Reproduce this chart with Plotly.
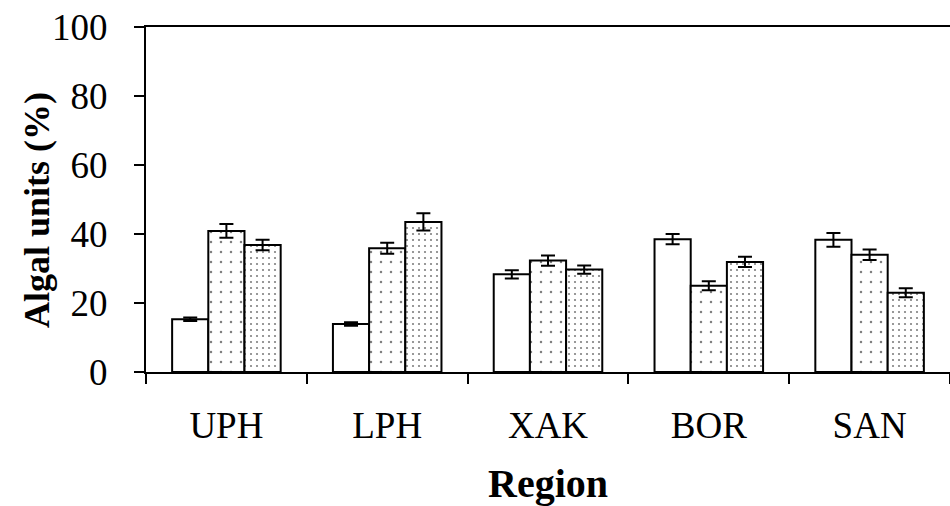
import plotly.graph_objects as go

regions = ["UPH", "LPH", "XAK", "BOR", "SAN"]
s1 = [15.3, 13.9, 28.3, 38.5, 38.3]
s1_err = [0.5, 0.5, 1.2, 1.5, 2.0]
s2 = [40.9, 35.9, 32.3, 25.0, 34.0]
s2_err = [2.0, 1.6, 1.5, 1.3, 1.5]
s3 = [36.8, 43.5, 29.7, 31.9, 23.0]
s3_err = [1.5, 2.5, 1.2, 1.5, 1.3]

series = [
    (s1, s1_err, dict(shape="", bgcolor="white")),
    (s2, s2_err, dict(shape=".", fgcolor="black", bgcolor="white", size=10, solidity=0.05)),
    (s3, s3_err, dict(shape=".", fgcolor="black", bgcolor="white", size=6, solidity=0.1)),
]

fig = go.Figure()
for vals, errs, pat in series:
    fig.add_trace(go.Bar(
        x=regions, y=vals,
        marker=dict(color="white", line=dict(color="black", width=2), pattern=pat),
        error_y=dict(type="data", array=errs, visible=True, color="black", thickness=2, width=7),
        showlegend=False,
    ))

font = "Liberation Serif, Times New Roman, serif"
fig.update_layout(
    width=950, height=506,
    margin=dict(l=146, r=0, t=27, b=134),
    paper_bgcolor="white", plot_bgcolor="white",
    barmode="group", bargap=0.325, bargroupgap=0,
    font=dict(family=font, size=37, color="black"),
    xaxis=dict(
        showline=True, linecolor="black", linewidth=2, mirror=True,
        ticks="outside", tickson="boundaries", ticklen=10, tickwidth=2, tickcolor="black",
        ticklabelstandoff=20,
        showgrid=False,
        title=dict(text="<b>Region</b>", font=dict(size=40, family=font), standoff=25),
    ),
    yaxis=dict(
        range=[0, 100], tickvals=[0, 20, 40, 60, 80, 100],
        showline=True, linecolor="black", linewidth=2,
        ticks="outside", ticklen=10, tickwidth=2, tickcolor="black",
        ticklabelstandoff=19,
        showgrid=False, zeroline=False,
    ),
    annotations=[dict(
        text="<b>Algal units (%)</b>", textangle=-90,
        xref="paper", yref="paper", x=(37 - 146) / 804, y=(372 - 210) / 345,
        xanchor="center", yanchor="middle", showarrow=False,
        font=dict(size=36, family=font, color="black"),
    )],
)

fig.write_html("out.html")
